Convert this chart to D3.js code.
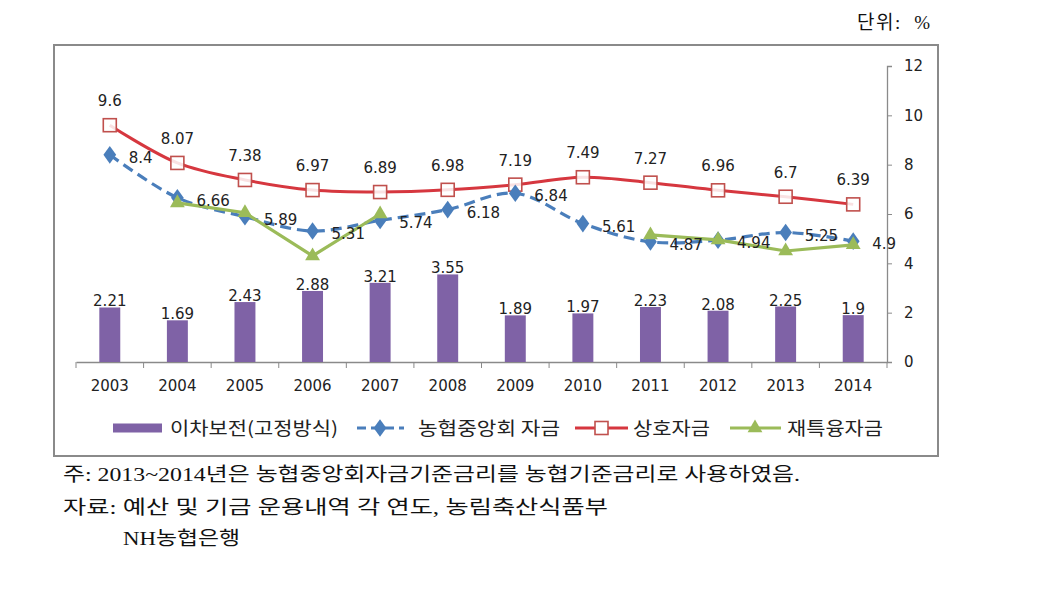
<!DOCTYPE html>
<html><head><meta charset="utf-8">
<script src="https://cdn.jsdelivr.net/npm/d3@7"></script>
<style>
html,body{margin:0;padding:0;background:#fff;}
svg{display:block;}
</style></head>
<body>
<svg id="c" width="1057" height="598"></svg>
<script>
const years = ['2003','2004','2005','2006','2007','2008','2009','2010','2011','2012','2013','2014'];
const subsidy = [2.21,1.69,2.43,2.88,3.21,3.55,1.89,1.97,2.23,2.08,2.25,1.9];
const nhFund = [8.4,6.66,5.89,5.31,5.74,6.18,6.84,5.61,4.87,4.94,5.25,4.9];
const mutualFund = [9.6,8.07,7.38,6.97,6.89,6.98,7.19,7.49,7.27,6.96,6.7,6.39];
const reloanFund = [null,6.45,6.05,4.3,6.0,null,null,null,5.15,4.95,4.5,4.75];
const yTicks = [0,2,4,6,8,10,12];
const seriesNames = ['이차보전(고정방식)','농협중앙회 자금','상호자금','재특융자금'];
const unitText = '단위:  %';
const notes = ['주: 2013~2014년은 농협중앙회자금기준금리를 농협기준금리로 사용하였음.',
               '자료: 예산 및 기금 운용내역 각 연도, 농림축산식품부',
               'NH농협은행'];

const svg = d3.select('#c');
const numFont = "'DejaVu Sans', sans-serif";
const krFont = "'Noto Sans CJK KR', sans-serif";
const serifFont = "'Liberation Serif','Noto Sans CJK KR',serif";

// frame
svg.append('rect').attr('x',54).attr('y',45).attr('width',884).attr('height',411)
  .attr('fill','none').attr('stroke','#8a8a8a').attr('stroke-width',2);

const x = d3.scaleBand().domain(years).range([76,887]).padding(0);
const y = d3.scaleLinear().domain([0,12]).range([362,66]);
const cx = d => x(d) + x.bandwidth()/2;
const barW = x.bandwidth()*0.31;

// right axis
const yAxis = d3.axisRight(y).tickValues(yTicks).tickSize(5).tickPadding(12).tickFormat(d3.format('d'));
const ga = svg.append('g').attr('transform','translate(887,0)').call(yAxis);
ga.select('.domain').attr('stroke','#8a8a8a').attr('stroke-width',1.3);
ga.selectAll('.tick line').attr('stroke','#8a8a8a');
ga.selectAll('.tick text').attr('font-family',numFont).attr('font-size',15).attr('fill','#222');

// x axis
const xAxis = d3.axisBottom(x).tickSize(0).tickPadding(18);
const gx = svg.append('g').attr('transform','translate(0,362)').call(xAxis);
gx.select('.domain').attr('stroke','#8a8a8a').attr('stroke-width',1.3);
gx.selectAll('.tick text').attr('font-family',numFont).attr('font-size',15).attr('fill','#222');
const bounds = years.map(d => x(d)).concat([x.range()[1]]);
gx.selectAll('line.bt').data(bounds).enter().append('line').attr('class','bt')
  .attr('x1',d=>d).attr('x2',d=>d).attr('y1',0).attr('y2',6).attr('stroke','#8a8a8a');

// bars
svg.append('g').selectAll('rect').data(years).enter().append('rect')
  .attr('x',(d)=>cx(d)-barW/2).attr('width',barW)
  .attr('y',(d,i)=>y(subsidy[i])).attr('height',(d,i)=>y(0)-y(subsidy[i]))
  .attr('fill','#7f62a6');

const curve = d3.curveCatmullRom.alpha(0.5);
const line = d3.line().defined(d=>d[1]!=null).x(d=>cx(d[0])).y(d=>y(d[1])).curve(curve);

// red line
const redData = years.map((d,i)=>[d,mutualFund[i]]);
svg.append('path').datum(redData).attr('d',line).attr('fill','none')
  .attr('stroke','#d6373f').attr('stroke-width',3);
svg.append('g').selectAll('rect').data(redData).enter().append('rect')
  .attr('x',d=>cx(d[0])-6.5).attr('y',d=>y(d[1])-6.5).attr('width',13).attr('height',13)
  .attr('fill','#fff').attr('fill-opacity',0.85).attr('stroke','#c0504d').attr('stroke-width',1.6);

// blue dashed
const blueData = years.map((d,i)=>[d,nhFund[i]]);
svg.append('path').datum(blueData).attr('d',line).attr('fill','none')
  .attr('stroke','#4a7ebb').attr('stroke-width',3.2).attr('stroke-dasharray','11,6');
const diamond = d3.symbol().type(d3.symbolDiamond).size(90);
svg.append('g').selectAll('path').data(blueData).enter().append('path')
  .attr('d',diamond).attr('transform',d=>`translate(${cx(d[0])},${y(d[1])}) scale(1.25,1)`)
  .attr('fill','#4a7ebb');

// green
const greenData = years.map((d,i)=>[d,reloanFund[i]]);
const gline = d3.line().defined(d=>d[1]!=null).x(d=>cx(d[0])).y(d=>y(d[1]));
svg.append('path').datum(greenData).attr('d',gline).attr('fill','none')
  .attr('stroke','#9bbb59').attr('stroke-width',3.2);
const tri = d3.symbol().type(d3.symbolTriangle).size(95);
svg.append('g').selectAll('path').data(greenData.filter(d=>d[1]!=null)).enter().append('path')
  .attr('d',tri).attr('transform',d=>`translate(${cx(d[0])},${y(d[1])})`)
  .attr('fill','#9bbb59');

// labels
const lab = svg.append('g').attr('font-family',numFont).attr('font-size',15).attr('fill','#222');
lab.selectAll('text.b').data(years).enter().append('text').attr('class','b')
  .attr('x',d=>cx(d)).attr('y',(d,i)=>y(subsidy[i])-1).attr('text-anchor','middle')
  .text((d,i)=>subsidy[i]);
lab.selectAll('text.r').data(redData).enter().append('text').attr('class','r')
  .attr('x',d=>cx(d[0])).attr('y',d=>y(d[1])-19).attr('text-anchor','middle')
  .text(d=>d[1]);
lab.selectAll('text.n').data(blueData).enter().append('text').attr('class','n')
  .attr('x',d=>cx(d[0])+19).attr('y',d=>y(d[1])+8)
  .text(d=>d[1]);

// legend
const lg = svg.append('g');
const ly = 428;
lg.append('rect').attr('x',113).attr('y',ly-4.5).attr('width',49).attr('height',9).attr('fill','#7f62a6');
lg.append('line').attr('x1',357).attr('x2',404).attr('y1',ly).attr('y2',ly)
  .attr('stroke','#4a7ebb').attr('stroke-width',3.2).attr('stroke-dasharray','9,5');
lg.append('path').attr('d',diamond).attr('transform',`translate(380,${ly}) scale(1.25,1)`).attr('fill','#4a7ebb');
lg.append('line').attr('x1',575).attr('x2',628).attr('y1',ly).attr('y2',ly)
  .attr('stroke','#d6373f').attr('stroke-width',3);
lg.append('rect').attr('x',595).attr('y',ly-6.5).attr('width',13).attr('height',13)
  .attr('fill','#fff').attr('stroke','#c0504d').attr('stroke-width',1.6);
lg.append('line').attr('x1',730).attr('x2',781).attr('y1',ly).attr('y2',ly)
  .attr('stroke','#9bbb59').attr('stroke-width',3.2);
lg.append('path').attr('d',tri).attr('transform',`translate(755,${ly})`).attr('fill','#9bbb59');
const legX = [170,418,633,787];
const legW = [168,142,77,96];
lg.selectAll('text').data(seriesNames).enter().append('text')
  .attr('x',(d,i)=>legX[i]).attr('y',ly+7).attr('font-family',krFont).attr('font-size',18)
  .attr('fill','#222').attr('textLength',(d,i)=>legW[i]).attr('lengthAdjust','spacingAndGlyphs')
  .text(d=>d);

// unit
svg.append('text').attr('x',857).attr('y',29)
  .attr('font-family',serifFont).attr('font-size',19).attr('xml:space','preserve')
  .attr('textLength',73).attr('lengthAdjust','spacing')
  .attr('fill','#111').text(unitText);

// notes
const noteX = [63,63,123];
const noteY = [481,514,545];
const noteW = [737,545,117];
svg.append('g').selectAll('text').data(notes).enter().append('text')
  .attr('x',(d,i)=>noteX[i]).attr('y',(d,i)=>noteY[i])
  .attr('font-family',serifFont).attr('font-size',19)
  .attr('fill','#111')
  .attr('textLength',(d,i)=>noteW[i]).attr('lengthAdjust','spacingAndGlyphs')
  .text(d=>d);
</script>
</body></html>
